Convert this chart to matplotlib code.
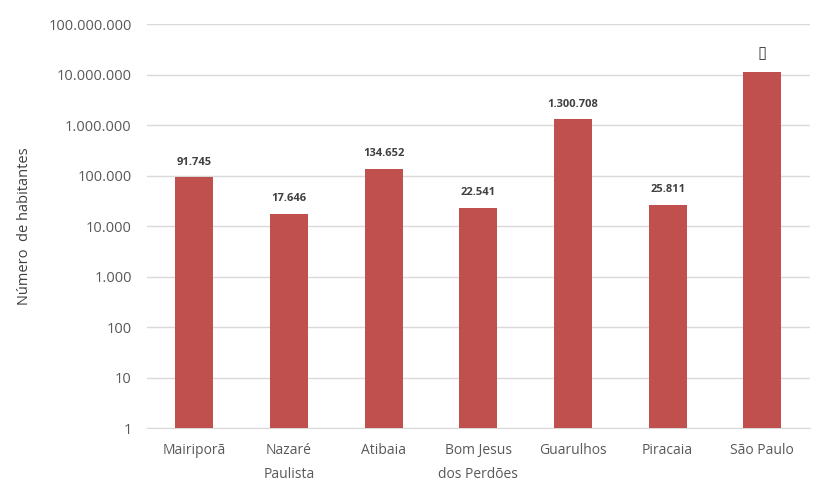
import matplotlib.pyplot as plt
from matplotlib.ticker import FixedLocator, FuncFormatter

cidades = ['Mairiporã', 'Nazaré\nPaulista', 'Atibaia', 'Bom Jesus\ndos Perdões',
           'Guarulhos', 'Piracaia', 'São Paulo']
habitantes = [91745, 17646, 134652, 22541, 1300708, 25811, 11253503]
rotulos = ['91.745', '17.646', '134.652', '22.541', '1.300.708', '25.811', '\u25af']

plt.rcParams['font.family'] = ['Open Sans', 'DejaVu Sans']

fig = plt.figure(figsize=(8.17, 4.9), dpi=100)
ax = fig.add_axes([0.18, 0.1265, 0.811, 0.8245])

x = range(len(cidades))
ax.bar(x, habitantes, width=0.4, color='#c0504d', zorder=3)
ax.set_yscale('log')
ax.set_ylim(1, 1e8)
ax.set_xlim(-0.5, len(cidades) - 0.5)

def fmt(v, pos):
    return f'{int(round(v)):,}'.replace(',', '.')

ax.yaxis.set_major_locator(FixedLocator([10 ** k for k in range(9)]))
ax.yaxis.set_minor_locator(FixedLocator([]))
ax.yaxis.set_major_formatter(FuncFormatter(fmt))
ax.grid(axis='y', color='#d9d9d9', linewidth=1, zorder=0)

for i, (v, t) in enumerate(zip(habitantes, rotulos)):
    fs = 8 if i < len(cidades) - 1 else 12
    ax.annotate(t, (i, v), xytext=(0, 7), textcoords='offset points',
                ha='center', va='bottom', fontsize=fs, fontweight='bold',
                color='#404040')

ax.set_xticks(list(x))
ax.set_xticklabels(cidades, fontsize=10, color='#595959', linespacing=1.75)
ax.tick_params(axis='both', length=0, labelcolor='#595959')
ax.tick_params(axis='y', labelsize=10.5, pad=11)
ax.tick_params(axis='x', pad=11)
for s in ['top', 'right', 'left']:
    ax.spines[s].set_visible(False)
ax.spines['bottom'].set_color('#d9d9d9')

ax.set_ylabel('Número  de habitantes', fontsize=10.5, color='#404040', labelpad=12)

fig.savefig('out.png')
